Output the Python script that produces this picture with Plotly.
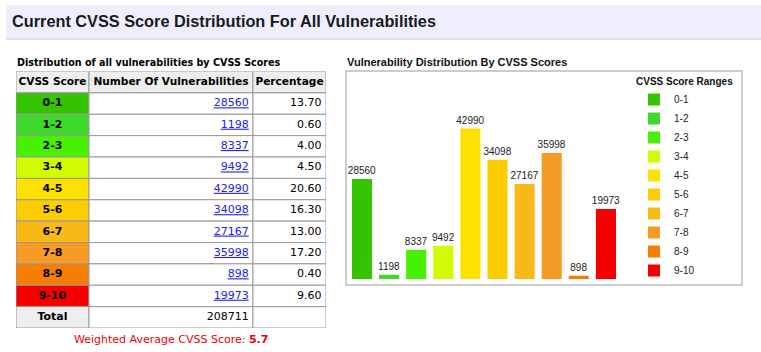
import plotly.graph_objects as go

# ---------------- data ----------------
ranges = ["0-1", "1-2", "2-3", "3-4", "4-5", "5-6", "6-7", "7-8", "8-9", "9-10"]
counts = [28560, 1198, 8337, 9492, 42990, 34098, 27167, 35998, 898, 19973]
percentages = [13.70, 0.60, 4.00, 4.50, 20.60, 16.30, 13.00, 17.20, 0.40, 9.60]
colors = ["#34c400", "#3fd92e", "#48f100", "#d1fb00", "#fde100",
          "#fccd00", "#f9ba17", "#f69c25", "#f57f03", "#f40000"]
headers = ["CVSS Score", "Number Of Vulnerabilities", "Percentage"]
total_label = "Total"
weighted_average = 5.7

W, H = 761, 352


def px(x):
    return x / W


def py(y):
    return 1 - y / H


TABLE_FONT = "DejaVu Sans, Verdana, sans-serif"
ARIAL = "Liberation Sans, Arial, sans-serif"
GRID = "#9a9a9a"
HEAD_BG = "#eeeeee"

fig = go.Figure()

# ---------------- bar chart ----------------
for r, c, col in zip(ranges, counts, colors):
    fig.add_trace(go.Bar(
        x=[r], y=[c], name=r, marker=dict(color=col, line=dict(width=0)),
        text=[str(c)], textposition="outside", cliponaxis=False, constraintext="none",
        textfont=dict(family=ARIAL, size=10, color="#222222"),
        hoverinfo="x+y", xaxis="x", yaxis="y",
    ))

# ---------------- table (drawn on its own hidden axes) ----------------
total = sum(counts)
n = len(ranges)
row_keys = ["__header__"] + ranges + ["__total__"]
col_edges = [0, 73, 237, 310]          # column boundaries on the table's x-axis

col_fills = [
    [HEAD_BG] + colors + [HEAD_BG],
    [HEAD_BG] + ["#ffffff"] * (n + 1),
    [HEAD_BG] + ["#ffffff"] * (n + 1),
]
for j in range(3):
    left, right = col_edges[j], col_edges[j + 1]
    fig.add_trace(go.Bar(
        y=row_keys, x=[right - left] * len(row_keys), base=[left] * len(row_keys),
        orientation="h", width=1,
        marker=dict(color=col_fills[j], line=dict(color=GRID, width=1)),
        showlegend=False, hoverinfo="skip", xaxis="x2", yaxis="y2",
    ))

# column 1 text
col1_text = ["<b>%s</b>" % headers[0]] + ["<b>%s</b>" % r for r in ranges] + ["<b>%s</b>" % total_label]
fig.add_trace(go.Scatter(
    x=[(col_edges[0] + col_edges[1]) / 2] * len(row_keys), y=row_keys,
    mode="text", text=col1_text, textposition="middle center",
    textfont=dict(family=TABLE_FONT, size=[10.6] + [11] * (n + 1), color="#000000"),
    showlegend=False, hoverinfo="skip", xaxis="x2", yaxis="y2", cliponaxis=False,
))
# column 2 text
col2_text = ["<b>%s</b>" % headers[1]] + ["<u>%d</u>" % c for c in counts] + [str(total)]
fig.add_trace(go.Scatter(
    x=[(col_edges[1] + col_edges[2]) / 2] + [col_edges[2] - 4.3] * (n + 1), y=row_keys,
    mode="text", text=col2_text,
    textposition=["middle center"] + ["middle left"] * (n + 1),
    textfont=dict(family=TABLE_FONT, size=[10.6] + [11] * (n + 1),
                  color=["#000000"] + ["#2222ee"] * n + ["#000000"]),
    showlegend=False, hoverinfo="skip", xaxis="x2", yaxis="y2", cliponaxis=False,
))
# column 3 text
col3_text = ["<b>%s</b>" % headers[2]] + ["%.2f" % p for p in percentages] + [""]
fig.add_trace(go.Scatter(
    x=[(col_edges[2] + col_edges[3]) / 2] + [col_edges[3] - 4.5] * (n + 1), y=row_keys,
    mode="text", text=col3_text,
    textposition=["middle center"] + ["middle left"] * (n + 1),
    textfont=dict(family=TABLE_FONT, size=[10.6] + [11] * (n + 1), color="#000000"),
    showlegend=False, hoverinfo="skip", xaxis="x2", yaxis="y2", cliponaxis=False,
))

# ---------------- shapes ----------------
shapes = [
    # title bar
    dict(type="rect", xref="paper", yref="paper", x0=px(6), x1=1, y0=py(39), y1=py(5),
         fillcolor="#eeeefd", line=dict(width=0), layer="below"),
    dict(type="line", xref="paper", yref="paper", x0=px(6), x1=1, y0=py(39), y1=py(39),
         line=dict(color="#d6d6ee", width=1.5)),
    # chart frame
    dict(type="rect", xref="paper", yref="paper", x0=px(346), x1=px(742), y0=py(285), y1=py(71),
         fillcolor="rgba(0,0,0,0)", line=dict(color="#cccccc", width=2), layer="below"),
]

annotations = [
    dict(text="<b>Current CVSS Score Distribution For All Vulnerabilities</b>",
         x=px(10), y=py(21), xref="paper", yref="paper", xanchor="left", yanchor="middle",
         showarrow=False, font=dict(family=ARIAL, size=16.3, color="#1a1a1a")),
    dict(text="<b>Distribution of all vulnerabilities by CVSS Scores</b>",
         x=px(15), y=py(63), xref="paper", yref="paper", xanchor="left", yanchor="middle",
         showarrow=False, font=dict(family=TABLE_FONT, size=9.6, color="#000000")),
    dict(text="<b>Vulnerability Distribution By CVSS Scores</b>",
         x=px(345), y=py(62.5), xref="paper", yref="paper", xanchor="left", yanchor="middle",
         showarrow=False, font=dict(family=ARIAL, size=11, color="#111111")),
    dict(text="Weighted Average CVSS Score: <b>%.1f</b>" % weighted_average,
         x=px(171), y=py(339), xref="paper", yref="paper", xanchor="center", yanchor="middle",
         showarrow=False, font=dict(family=TABLE_FONT, size=11, color="#ee0000")),
]

hidden = dict(showticklabels=False, showgrid=False, zeroline=False, showline=False,
              ticks="", fixedrange=True)

fig.update_layout(
    width=W, height=H,
    margin=dict(l=0, r=0, t=0, b=0),
    paper_bgcolor="#ffffff", plot_bgcolor="rgba(0,0,0,0)",
    barmode="overlay", bargap=0.26,
    xaxis=dict(domain=[px(348.4), px(619.5)], categoryorder="array", categoryarray=ranges,
               anchor="y", **hidden),
    yaxis=dict(domain=[py(279), py(104)], range=[0, 50000], anchor="x", **hidden),
    xaxis2=dict(domain=[px(16), px(326)], range=[col_edges[0], col_edges[-1]], anchor="y2", **hidden),
    yaxis2=dict(domain=[py(328), py(71.5)], type="category", categoryorder="array",
                categoryarray=row_keys, range=[len(row_keys) - 0.5, -0.5], anchor="x2", **hidden),
    showlegend=True,
    legend=dict(
        x=px(634), y=py(72), xanchor="left", yanchor="top",
        bgcolor="rgba(0,0,0,0)", borderwidth=0,
        font=dict(family=ARIAL, size=10, color="#222222"),
        title=dict(text="<b>CVSS Score Ranges</b>", font=dict(family=ARIAL, size=10, color="#111111")),
        itemclick=False, itemdoubleclick=False, traceorder="normal",
    ),
    shapes=shapes,
    annotations=annotations,
)

fig.write_html("out.html")
